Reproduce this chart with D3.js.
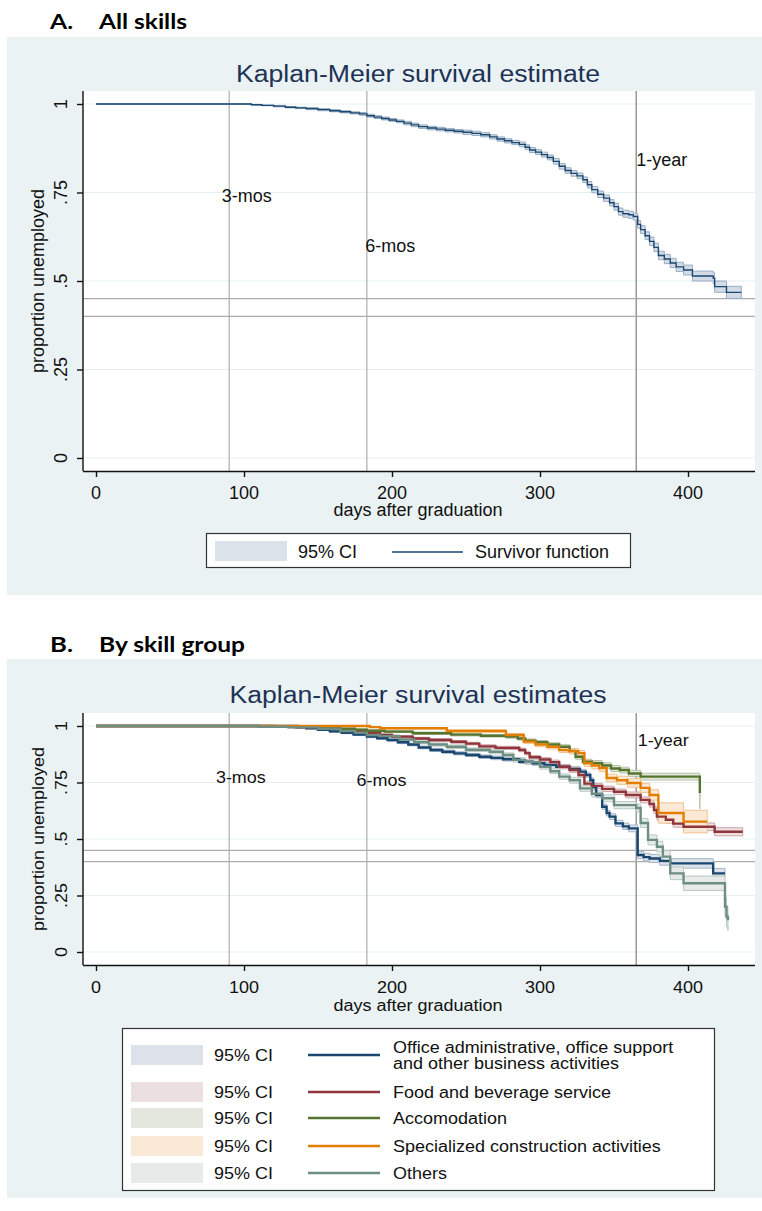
<!DOCTYPE html>
<html>
<head>
<meta charset="utf-8">
<script src="https://cdn.jsdelivr.net/npm/d3@7"></script>
<style>
  body { margin: 0; background: #fff; }
  svg { display: block; }
  text { font-family: "Liberation Sans", Arial, sans-serif; fill: #111; }
</style>
</head>
<body>
<script>
'use strict';

// ---- data ----
const xTicks = [0, 100, 200, 300, 400];
const yTicks = [0, 0.25, 0.5, 0.75, 1];
const yTickLabels = ['0', '.25', '.5', '.75', '1'];
const refDays = [90, 183, 365];
const refLevels = [0.45, 0.40];
const markLabels = ['3-mos', '6-mos', '1-year'];
const markDaysA = [85, 182, 365];
const markLevelsA = [0.724, 0.583, 0.825];
const markDaysB = [81, 176, 366];
const markLevelsB = [0.749, 0.735, 0.912];

// [day, survival, CI half width]
const allSkills = [
  [0, 1, 0], [100, 1, 0], [105, .998, .001], [112, .996, .001], [120, .994, .002], [128, .991, .002],
  [135, .989, .002], [142, .987, .003], [150, .984, .003], [158, .981, .003], [165, .978, .003],
  [172, .975, .003], [178, .972, .004], [183, .967, .004], [188, .963, .004], [193, .959, .004],
  [198, .955, .004], [203, .951, .004], [208, .946, .005], [213, .941, .005], [218, .936, .005],
  [224, .932, .005], [230, .929, .005], [236, .926, .005], [242, .923, .005], [248, .920, .006],
  [254, .917, .006], [260, .913, .006], [266, .907, .006], [271, .901, .006], [276, .896, .006],
  [281, .891, .006], [286, .886, .007], [290, .878, .007], [293, .870, .007], [297, .864, .007],
  [301, .857, .007], [305, .849, .007], [309, .838, .008], [313, .824, .008], [317, .812, .008],
  [321, .804, .008], [325, .797, .008], [329, .786, .008], [332, .772, .009], [335, .758, .009],
  [339, .745, .009], [343, .734, .009], [347, .721, .009], [350, .710, .010], [353, .696, .010],
  [356, .690, .010], [360, .687, .010], [363, .682, .010], [366, .660, .011], [368, .645, .011],
  [371, .628, .011], [374, .612, .012], [377, .595, .012], [380, .572, .012], [384, .562, .013],
  [388, .551, .013], [392, .540, .013], [397, .531, .014], [403, .514, .014], [417, .508, .015],
  [418, .484, .016], [426, .468, .017], [436, .468, .017]
];

const office = [
  [0, 1, 0], [130, 1, 0], [136, .995, .002], [142, .990, .003], [150, .983, .003], [158, .976, .004],
  [166, .970, .004], [174, .962, .004], [183, .953, .005], [190, .946, .005], [197, .938, .005],
  [204, .928, .006], [211, .918, .006], [218, .905, .006], [226, .894, .007], [234, .886, .007],
  [242, .879, .007], [250, .872, .007], [259, .864, .008], [267, .859, .008], [275, .853, .008],
  [286, .842, .008], [295, .835, .009], [303, .828, .009], [311, .820, .009], [320, .810, .010],
  [327, .798, .010], [331, .783, .010], [334, .760, .011], [336, .730, .011], [338, .695, .012],
  [342, .643, .012], [345, .615, .013], [347, .599, .013], [351, .569, .014], [356, .556, .014],
  [360, .547, .015], [366, .429, .016], [370, .420, .017], [374, .414, .018], [381, .403, .019],
  [388, .392, .021], [417, .348, .022], [425, .348, .022]
];

const food = [
  [0, 1, 0], [110, 1, 0], [120, .997, .002], [135, .994, .002], [150, .990, .003], [165, .983, .003],
  [175, .977, .004], [183, .970, .004], [192, .960, .005], [200, .953, .005], [214, .945, .005],
  [225, .938, .006], [240, .930, .006], [250, .922, .006], [259, .910, .007], [270, .903, .007],
  [286, .894, .008], [290, .880, .008], [293, .862, .008], [300, .852, .008], [307, .840, .009],
  [313, .820, .009], [320, .805, .010], [326, .783, .010], [330, .745, .011], [335, .735, .011],
  [342, .722, .012], [350, .709, .012], [358, .695, .013], [368, .673, .013], [374, .655, .014],
  [377, .628, .015], [379, .599, .015], [385, .585, .016], [390, .568, .016], [397, .554, .017],
  [418, .532, .018], [437, .532, .018]
];

const accom = [
  [0, 1, 0], [100, 1, 0], [110, .998, .002], [130, .996, .002], [150, .992, .003], [165, .988, .003],
  [175, .984, .003], [183, .979, .004], [195, .975, .004], [214, .968, .005], [240, .962, .006],
  [260, .957, .006], [277, .953, .007], [285, .945, .007], [290, .935, .008], [297, .928, .008],
  [305, .918, .008], [313, .908, .009], [320, .890, .010], [324, .864, .011], [329, .842, .011],
  [335, .835, .012], [342, .825, .012], [348, .812, .013], [354, .805, .013], [360, .790, .014],
  [368, .776, .015], [408, .703, .070]
];

const constr = [
  [0, 1, 0], [183, 1, 0], [185, .995, .002], [192, .990, .003], [237, .978, .005], [277, .960, .007],
  [289, .931, .009], [297, .918, .010], [305, .908, .010], [313, .894, .011], [320, .888, .012],
  [326, .880, .012], [330, .835, .014], [335, .825, .015], [340, .814, .015], [345, .770, .017],
  [352, .760, .018], [359, .748, .019], [368, .726, .020], [374, .695, .023], [380, .615, .045],
  [397, .577, .050], [413, .577, .050]
];

const others = [
  [0, 1, 0], [100, 1, 0], [110, .997, .002], [130, .994, .003], [150, .988, .004], [165, .978, .004],
  [175, .970, .005], [183, .960, .005], [192, .955, .006], [205, .940, .006], [215, .928, .007],
  [225, .918, .007], [237, .908, .008], [250, .895, .008], [266, .886, .009], [275, .872, .009],
  [282, .850, .010], [290, .840, .010], [300, .820, .011], [307, .800, .011], [313, .776, .012],
  [320, .760, .013], [327, .724, .013], [335, .700, .014], [342, .680, .015], [350, .650, .016],
  [365, .637, .017], [368, .571, .020], [373, .496, .022], [379, .466, .024], [383, .422, .026],
  [388, .348, .028], [397, .304, .032], [425, .200, .040], [426, .156, .045], [427, .140, .045]
];

const groupNames = [
  'Office administrative, office support\nand other business activities',
  'Food and beverage service',
  'Accomodation',
  'Specialized construction activities',
  'Others'
];
const groupSeries = [office, food, accom, constr, others];
const groupColors = ['#1a476f', '#90353b', '#55752f', '#e37e00', '#6e8e84'];
const groupFills = ['#dde1ea', '#ecdfe0', '#e3e7dd', '#fbe9d8', '#e6ebe9'];
const groupEdges = ['#a7b6c8', '#cfa6a9', '#b4c2a4', '#f0c28e', '#b9c9c4'];

// ---- drawing ----
const svg = d3.select('body').append('svg')
  .attr('width', 762)
  .attr('height', 1211);

// text with optional vertical squash (panel B text is a bit flatter)
function txt(g, s, x, y, opt) {
  opt = opt || {};
  let rot = opt.rotate || 0;
  let sy = opt.sy || 1;
  let t = g.append('text')
    .attr('transform', 'translate(' + x + ',' + y + ') rotate(' + rot + ') scale(1,' + sy + ')')
    .attr('text-anchor', opt.anchor || 'start')
    .style('font-size', (opt.size || 18) + 'px')
    .text(s);
  if (opt.fill) t.style('fill', opt.fill);
  if (opt.weight) t.style('font-weight', opt.weight);
  if (opt.family) t.style('font-family', opt.family);
  if (opt.len) t.attr('textLength', opt.len).attr('lengthAdjust', 'spacingAndGlyphs');
  return t;
}

function drawPanel(p) {
  let g = svg.append('g');

  g.append('rect')
    .attr('x', 7).attr('y', p.bgY)
    .attr('width', 755).attr('height', p.bgH)
    .attr('fill', '#eaf2f3');

  // heading
  txt(g, p.letter, 50, p.headY, {size: 21, weight: 700, family: 'Lato, "Open Sans", sans-serif', fill: '#000', len: 23});
  txt(g, p.heading, 99, p.headY, {size: 21, weight: 700, family: 'Lato, "Open Sans", sans-serif', fill: '#000', len: p.headLen});

  txt(g, p.title, 418, p.titleY, {size: 23, anchor: 'middle', fill: '#1e3256', len: p.titleLen});

  let x = d3.scaleLinear().domain([0, 400]).range([96, 688]);
  let y = d3.scaleLinear().domain([0, 1]).range([p.y0, p.y1]);

  g.append('rect')
    .attr('x', 83).attr('y', p.plotTop)
    .attr('width', 755 - 83).attr('height', p.plotBot - p.plotTop)
    .attr('fill', '#fff');

  let clipId = 'clip' + p.letter[0];
  g.append('clipPath').attr('id', clipId)
    .append('rect')
    .attr('x', 83).attr('y', p.plotTop)
    .attr('width', 755 - 83).attr('height', p.plotBot - p.plotTop);

  // gridlines
  g.selectAll('.grid')
    .data(yTicks)
    .enter()
    .append('line')
      .attr('x1', 83).attr('x2', 755)
      .attr('y1', d => y(d)).attr('y2', d => y(d))
      .attr('stroke', '#e6eff1').attr('stroke-width', 1.2);

  // reference lines
  g.selectAll('.vref')
    .data(refDays)
    .enter()
    .append('line')
      .attr('x1', d => x(d)).attr('x2', d => x(d))
      .attr('y1', p.plotTop).attr('y2', p.plotBot)
      .attr('stroke', (d, i) => i === 2 ? '#8a8a8a' : '#b4b4b4')
      .attr('stroke-width', 1.3);
  g.selectAll('.href')
    .data(refLevels)
    .enter()
    .append('line')
      .attr('x1', 83).attr('x2', 755)
      .attr('y1', d => y(d)).attr('y2', d => y(d))
      .attr('stroke', '#ababab')
      .attr('stroke-width', 1.3);

  // CI bands, then survivor lines
  let plot = g.append('g').attr('clip-path', 'url(#' + clipId + ')');
  let band = d3.area()
    .curve(d3.curveStepAfter)
    .x(d => x(d[0]))
    .y0(d => y(d[1] - d[2]))
    .y1(d => y(d[1] + d[2]));
  let line = d3.line()
    .curve(d3.curveStepAfter)
    .x(d => x(d[0]))
    .y(d => y(d[1]));

  p.series.forEach(function(s, i) {
    plot.append('path')
      .attr('d', band(s))
      .attr('fill', p.fills[i])
      .attr('stroke', p.edges[i])
      .attr('stroke-width', 1);
  });
  p.series.forEach(function(s, i) {
    plot.append('path')
      .attr('d', line(s))
      .attr('fill', 'none')
      .attr('stroke', p.colors[i])
      .attr('stroke-width', p.lineW);
  });

  // annotations
  markLabels.forEach(function(m, i) {
    txt(g, m, x(p.markDays[i]), y(p.markLevels[i]), {sy: p.sy});
  });

  // axes
  let xAxis = d3.axisBottom(x).tickValues(xTicks).tickSize(6).tickFormat('');
  g.append('g')
    .attr('transform', 'translate(0,' + p.plotBot + ')')
    .call(xAxis)
    .call(a => a.select('.domain').attr('d', 'M83,0.5H755'));
  let yAxis = d3.axisLeft(y).tickValues(yTicks).tickSize(6).tickFormat('');
  g.append('g')
    .attr('transform', 'translate(83,0)')
    .call(yAxis)
    .call(a => a.select('.domain').attr('d', 'M0,' + p.plotTop + 'V' + p.plotBot));
  g.selectAll('.domain, .tick line').attr('stroke', '#111').attr('stroke-width', 1.4);

  xTicks.forEach(function(d) {
    txt(g, String(d), x(d), p.tickLabY, {anchor: 'middle', sy: p.sy});
  });
  yTicks.forEach(function(d, i) {
    txt(g, yTickLabels[i], 67, y(d), {anchor: 'middle', rotate: -90, sy: p.sy});
  });
  txt(g, 'days after graduation', 418, p.xLabY, {anchor: 'middle', sy: p.sy});
  txt(g, 'proportion unemployed', 44, (p.y0 + p.y1) / 2, {anchor: 'middle', rotate: -90, sy: p.sy});

  return g;
}

// ---- panel A ----
let gA = drawPanel({
  letter: 'A.', heading: 'All skills', headY: 29, headLen: 88,
  bgY: 37, bgH: 558, plotTop: 91, plotBot: 471, y0: 458, y1: 104,
  title: 'Kaplan-Meier survival estimate', titleY: 82, titleLen: 364,
  tickLabY: 499, xLabY: 516, sy: 1,
  series: [allSkills], colors: ['#1a476f'], fills: ['#d3dbe6'], edges: ['#9aaec4'], lineW: 1.4,
  markDays: markDaysA, markLevels: markLevelsA
});

gA.append('rect')
  .attr('x', 206.5).attr('y', 533.5).attr('width', 424).attr('height', 34)
  .attr('fill', '#fff').attr('stroke', '#333').attr('stroke-width', 1.2);
gA.append('rect')
  .attr('x', 215).attr('y', 541).attr('width', 72).attr('height', 20)
  .attr('fill', '#dce2ea');
txt(gA, '95% CI', 298, 558);
gA.append('line')
  .attr('x1', 392).attr('x2', 463).attr('y1', 552).attr('y2', 552)
  .attr('stroke', '#1a476f').attr('stroke-width', 1.4);
txt(gA, 'Survivor function', 475, 558);

// ---- panel B ----
let gB = drawPanel({
  letter: 'B.', heading: 'By skill group', headY: 652, headLen: 146,
  bgY: 659, bgH: 539, plotTop: 713, plotBot: 965, y0: 952, y1: 726,
  title: 'Kaplan-Meier survival estimates', titleY: 703, titleLen: 377,
  tickLabY: 993, xLabY: 1011, sy: 0.88,
  series: groupSeries, colors: groupColors, fills: groupFills, edges: groupEdges, lineW: 2.4,
  markDays: markDaysB, markLevels: markLevelsB
});

const legRows = [1055, 1092, 1118, 1146, 1173];
gB.append('rect')
  .attr('x', 122.5).attr('y', 1028.5).attr('width', 592).attr('height', 162)
  .attr('fill', '#fff').attr('stroke', '#333').attr('stroke-width', 1.2);
groupNames.forEach(function(name, i) {
  let cy = legRows[i];
  gB.append('rect')
    .attr('x', 131).attr('y', cy - 10).attr('width', 72).attr('height', 20)
    .attr('fill', groupFills[i]);
  txt(gB, '95% CI', 214, cy + 6, {sy: 0.88});
  gB.append('line')
    .attr('x1', 308).attr('x2', 380).attr('y1', cy).attr('y2', cy)
    .attr('stroke', groupColors[i]).attr('stroke-width', 2.4);
  let lines = name.split('\n');
  if (lines.length === 1) {
    txt(gB, lines[0], 393, cy + 6, {sy: 0.88});
  } else {
    txt(gB, lines[0], 393, cy - 2, {sy: 0.88});
    txt(gB, lines[1], 393, cy + 14, {sy: 0.88});
  }
});
</script>
</body>
</html>
